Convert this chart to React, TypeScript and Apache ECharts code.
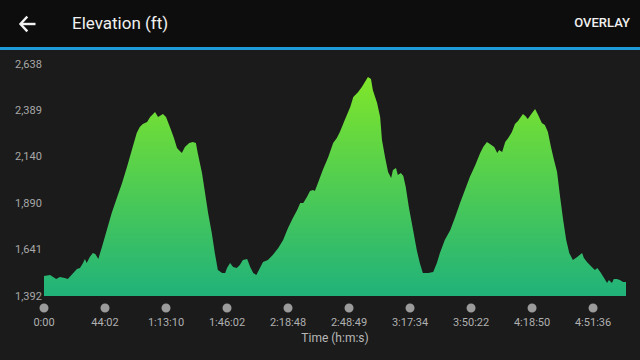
import React, { useEffect, useRef } from "react";
import * as echarts from "echarts";

// distance along the route, in units of one x-axis label step
const distance = [
  0.0, 0.1, 0.15, 0.2, 0.26, 0.34, 0.39, 0.48, 0.54, 0.59, 0.64, 0.67, 0.7, 0.75, 0.8, 0.84, 0.89,
  0.95, 1.03, 1.11, 1.2, 1.28, 1.36, 1.44, 1.52, 1.57, 1.62, 1.69, 1.74, 1.82, 1.87, 1.95, 2.0,
  2.07, 2.13, 2.18, 2.21, 2.26, 2.31, 2.38, 2.44, 2.49, 2.52, 2.59, 2.64, 2.69, 2.75, 2.8, 2.85,
  2.92, 2.97, 3.0, 3.05, 3.1, 3.16, 3.21, 3.26, 3.33, 3.38, 3.43, 3.48, 3.54, 3.59, 3.67, 3.75,
  3.84, 3.92, 4.0, 4.08, 4.15, 4.2, 4.25, 4.31, 4.36, 4.41, 4.44, 4.49, 4.57, 4.66, 4.74, 4.8,
  4.85, 4.93, 5.02, 5.07, 5.15, 5.21, 5.26, 5.31, 5.36, 5.39, 5.46, 5.51, 5.54, 5.59, 5.64, 5.69,
  5.72, 5.77, 5.8, 5.85, 5.89, 5.93, 5.98, 6.05, 6.11, 6.16, 6.21, 6.3, 6.38, 6.44, 6.49, 6.57,
  6.66, 6.74, 6.82, 6.9, 6.98, 7.07, 7.15, 7.2, 7.26, 7.31, 7.38, 7.43, 7.46, 7.51, 7.56, 7.61,
  7.67, 7.72, 7.77, 7.85, 7.89, 7.93, 8.0, 8.05, 8.1, 8.16, 8.21, 8.26, 8.31, 8.36, 8.41, 8.46,
  8.51, 8.56, 8.61, 8.67, 8.74, 8.82, 8.85, 8.9, 8.98, 9.03, 9.07, 9.13, 9.18, 9.23, 9.26, 9.31,
  9.34, 9.39, 9.44, 9.49, 9.54,
];

// elevation in feet
const elevation = [
  1499, 1505, 1494, 1483, 1494, 1489, 1483, 1516, 1537, 1542, 1569, 1591, 1569, 1601, 1623, 1618, 1591,
  1655, 1746, 1838, 1924, 1999, 2085, 2176, 2267, 2300, 2316, 2327, 2353, 2380, 2353, 2370, 2353,
  2294, 2241, 2187, 2176, 2160, 2192, 2214, 2219, 2214, 2160, 2053, 1945, 1838, 1730, 1623, 1532,
  1516, 1516, 1542, 1569, 1548, 1542, 1558, 1585, 1591, 1548, 1516, 1505, 1542, 1575, 1585, 1612,
  1650, 1693, 1757, 1811, 1854, 1891, 1891, 1924, 1956, 1961, 1956, 1999, 2069, 2139, 2214, 2241,
  2273, 2337, 2407, 2461, 2488, 2515, 2541, 2568, 2557, 2498, 2429, 2353, 2230, 2139, 2058, 2026,
  2069, 2079, 2042, 2053, 2037, 1977, 1870, 1746, 1639, 1569, 1516, 1516, 1521, 1569, 1623, 1693,
  1746, 1816, 1891, 1961, 2031, 2096, 2160, 2192, 2219, 2208, 2192, 2160, 2176, 2165, 2219, 2241,
  2273, 2316, 2332, 2370, 2359, 2343, 2375, 2396, 2364, 2321, 2310, 2273, 2192, 2122, 2058, 1924,
  1800, 1693, 1623, 1585, 1601, 1623, 1596, 1575, 1548, 1532, 1542, 1516, 1489, 1462, 1478, 1462,
  1483, 1483, 1478, 1467, 1467,
];

const timeLabels = [
  "0:00", "44:02", "1:13:10", "1:46:02", "2:18:48",
  "2:48:49", "3:17:34", "3:50:22", "4:18:50", "4:51:36",
];
const tickPositions = [0, 1, 2, 3, 4, 5, 6, 7, 8, 9];
const elevationTicks = [1392, 1641, 1890, 2140, 2389, 2638];

export default function App() {
  const ref = useRef<HTMLDivElement>(null);

  useEffect(() => {
    if (!ref.current) return;
    const chart = echarts.init(ref.current, null, { renderer: "svg" });
    const font = "Roboto, 'Noto Sans', sans-serif";
    chart.setOption({
      animation: false,
      backgroundColor: "#1b1b1b",
      textStyle: { fontFamily: font },
      graphic: [
        { type: "rect", left: 0, top: 0, shape: { width: 640, height: 47 }, style: { fill: "#0d0d0d" }, z: 0 },
        { type: "rect", left: 0, top: 47, shape: { width: 640, height: 3 }, style: { fill: "#1e9ad8" }, z: 1 },
        {
          type: "polyline",
          shape: { points: [[26.5, 17.5], [20.5, 24], [26.5, 30.5]] },
          style: { stroke: "#f2f2f2", lineWidth: 2.4, fill: null, lineCap: "square" },
          z: 2,
        },
        {
          type: "line",
          shape: { x1: 21, y1: 24, x2: 35.5, y2: 24 },
          style: { stroke: "#f2f2f2", lineWidth: 2.4 },
          z: 2,
        },
        {
          type: "text", left: 72, top: 14,
          style: { text: "Elevation (ft)", fill: "#f0f0f0", font: `17px ${font}` },
        },
        {
          type: "text", right: 10, top: 16,
          style: { text: "OVERLAY", fill: "#f0f0f0", font: `500 13px ${font}` },
        },
      ],
      grid: { left: 44, right: 14, top: 64, bottom: 64 },
      xAxis: {
        type: "value",
        min: 0,
        max: 9.54,
        axisLine: { show: false },
        axisTick: { show: false },
        splitLine: { show: false },
        name: "Time (h:m:s)",
        nameLocation: "middle",
        nameGap: 36,
        nameTextStyle: { color: "#b8b8b8", fontSize: 12, fontFamily: font },
        axisLabel: {
          customValues: tickPositions,
          margin: 7,
          formatter: (v: number) => `{d|}\n{t|${timeLabels[Math.round(v)]}}`,
          rich: {
            d: { width: 9, height: 9, borderRadius: 4.5, backgroundColor: "#9b9b9b", lineHeight: 10 },
            t: { color: "#b0b0b0", fontSize: 11, lineHeight: 18, fontFamily: font },
          },
        },
      },
      yAxis: {
        type: "value",
        min: 1392,
        max: 2638,
        axisLine: { show: false },
        axisTick: { show: false },
        splitLine: { show: false },
        axisLabel: {
          customValues: elevationTicks,
          align: "left",
          margin: 29,
          color: "#a8a8a8",
          fontSize: 11,
          fontFamily: font,
          formatter: (v: number) => v.toLocaleString("en-US"),
        },
      },
      series: [
        {
          type: "line",
          data: distance.map((d, i) => [d, elevation[i]]),
          showSymbol: false,
          lineStyle: { width: 0 },
          areaStyle: {
            opacity: 1,
            color: new echarts.graphic.LinearGradient(0, 0, 0, 1, [
              { offset: 0, color: "#7fe62a" },
              { offset: 1, color: "#20b27a" },
            ]),
          },
        },
      ],
    });
    return () => chart.dispose();
  }, []);

  return (
    <div
      ref={ref}
      style={{ position: "fixed", left: 0, top: 0, width: 640, height: 360 }}
    />
  );
}
